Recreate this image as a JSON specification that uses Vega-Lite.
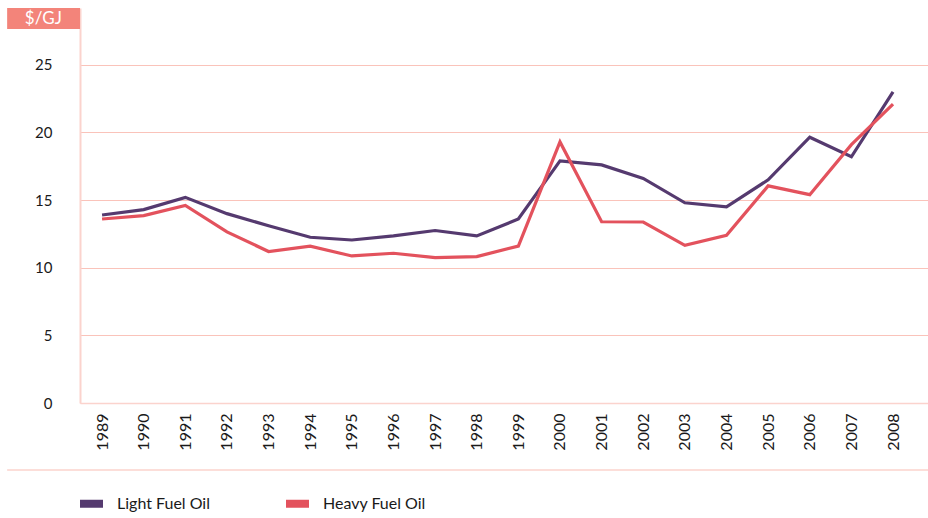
{
  "$schema": "https://vega.github.io/schema/vega-lite/v6.json",
  "width": 848,
  "height": 395,
  "autosize": {"type": "none"},
  "padding": {"left": 80, "top": 8, "right": 0, "bottom": 115},
  "background": "white",
  "config": {
    "view": {"stroke": null},
    "font": "Lato",
    "axis": {"labelFont": "Lato", "labelFontSize": 14, "labelColor": "#1a1a1a"},
    "legend": {"labelFont": "Lato", "labelFontSize": 16, "labelColor": "#1a1a1a"}
  },
  "layer": [
    {
      "data": {"values": [{"label": "$/GJ"}]},
      "mark": {"type": "rect", "color": "#f3847a"},
      "encoding": {
        "x": {"datum": 1986.72, "type": "quantitative", "scale": {"domain": [1988.47, 2008.84], "nice": false, "zero": false}},
        "x2": {"datum": 1988.47},
        "y": {"datum": 29.2, "type": "quantitative"},
        "y2": {"datum": 27.65}
      }
    },
    {
      "data": {"values": [{"label": "$/GJ"}]},
      "mark": {"type": "text", "color": "white", "fontSize": 17, "font": "Lato"},
      "encoding": {
        "x": {"datum": 1987.59, "type": "quantitative"},
        "y": {"datum": 28.42, "type": "quantitative"},
        "text": {"field": "label"}
      }
    },
    {
      "data": {"values": [{"label": "rule"}]},
      "mark": {"type": "rule", "color": "#fbd3cd", "strokeWidth": 1.5},
      "encoding": {
        "x": {"datum": 1986.72, "type": "quantitative"},
        "x2": {"datum": 2008.84},
        "y": {"datum": -4.95, "type": "quantitative"}
      }
    },
    {
      "data": {"values": [
        {"year": 1989, "series": "Light Fuel Oil", "value": 13.9},
        {"year": 1990, "series": "Light Fuel Oil", "value": 14.3},
        {"year": 1991, "series": "Light Fuel Oil", "value": 15.2},
        {"year": 1992, "series": "Light Fuel Oil", "value": 14.0},
        {"year": 1993, "series": "Light Fuel Oil", "value": 13.1},
        {"year": 1994, "series": "Light Fuel Oil", "value": 12.25},
        {"year": 1995, "series": "Light Fuel Oil", "value": 12.05},
        {"year": 1996, "series": "Light Fuel Oil", "value": 12.35},
        {"year": 1997, "series": "Light Fuel Oil", "value": 12.75},
        {"year": 1998, "series": "Light Fuel Oil", "value": 12.35},
        {"year": 1999, "series": "Light Fuel Oil", "value": 13.6},
        {"year": 2000, "series": "Light Fuel Oil", "value": 17.9},
        {"year": 2001, "series": "Light Fuel Oil", "value": 17.6},
        {"year": 2002, "series": "Light Fuel Oil", "value": 16.6},
        {"year": 2003, "series": "Light Fuel Oil", "value": 14.8},
        {"year": 2004, "series": "Light Fuel Oil", "value": 14.5},
        {"year": 2005, "series": "Light Fuel Oil", "value": 16.5},
        {"year": 2006, "series": "Light Fuel Oil", "value": 19.65},
        {"year": 2007, "series": "Light Fuel Oil", "value": 18.2},
        {"year": 2008, "series": "Light Fuel Oil", "value": 23.0},
        {"year": 1989, "series": "Heavy Fuel Oil", "value": 13.6},
        {"year": 1990, "series": "Heavy Fuel Oil", "value": 13.85},
        {"year": 1991, "series": "Heavy Fuel Oil", "value": 14.6},
        {"year": 1992, "series": "Heavy Fuel Oil", "value": 12.65},
        {"year": 1993, "series": "Heavy Fuel Oil", "value": 11.2},
        {"year": 1994, "series": "Heavy Fuel Oil", "value": 11.6},
        {"year": 1995, "series": "Heavy Fuel Oil", "value": 10.87},
        {"year": 1996, "series": "Heavy Fuel Oil", "value": 11.07},
        {"year": 1997, "series": "Heavy Fuel Oil", "value": 10.75},
        {"year": 1998, "series": "Heavy Fuel Oil", "value": 10.82},
        {"year": 1999, "series": "Heavy Fuel Oil", "value": 11.6},
        {"year": 2000, "series": "Heavy Fuel Oil", "value": 19.3},
        {"year": 2001, "series": "Heavy Fuel Oil", "value": 13.4},
        {"year": 2002, "series": "Heavy Fuel Oil", "value": 13.38},
        {"year": 2003, "series": "Heavy Fuel Oil", "value": 11.65},
        {"year": 2004, "series": "Heavy Fuel Oil", "value": 12.4},
        {"year": 2005, "series": "Heavy Fuel Oil", "value": 16.05},
        {"year": 2006, "series": "Heavy Fuel Oil", "value": 15.4},
        {"year": 2007, "series": "Heavy Fuel Oil", "value": 19.1},
        {"year": 2008, "series": "Heavy Fuel Oil", "value": 22.1}
      ]},
      "mark": {"type": "line", "strokeWidth": 3.2},
      "encoding": {
        "x": {
          "field": "year", "type": "quantitative",
          "axis": {
            "values": [1989,1990,1991,1992,1993,1994,1995,1996,1997,1998,1999,2000,2001,2002,2003,2004,2005,2006,2007,2008],
            "format": "d", "labelAngle": 270, "labelAlign": "right", "labelBaseline": "middle",
            "labelPadding": 10, "ticks": false, "grid": false, "domainColor": "#fbd3cd", "domainWidth": 1.5,
            "title": null, "labelFontSize": 16
          }
        },
        "y": {
          "field": "value", "type": "quantitative",
          "scale": {"domain": [0, 29.2], "nice": false},
          "axis": {
            "values": [0,5,10,15,20,25], "ticks": false, "labelPadding": 28, "title": null,
            "grid": true, "gridColor": "#fac3ba", "gridWidth": 1,
            "domainColor": "#fbd3cd", "domainWidth": 2, "labelFontSize": 15
          }
        },
        "color": {
          "field": "series", "type": "nominal",
          "scale": {"domain": ["Light Fuel Oil", "Heavy Fuel Oil"], "range": ["#553a6f", "#e3525d"]},
          "legend": {
            "title": null, "orient": "none", "legendX": -4, "legendY": 480,
            "direction": "horizontal", "columns": 2, "columnPadding": 60,
            "symbolType": "stroke", "symbolSize": 529, "symbolStrokeWidth": 8,
            "labelOffset": 10
          }
        }
      }
    }
  ]
}
